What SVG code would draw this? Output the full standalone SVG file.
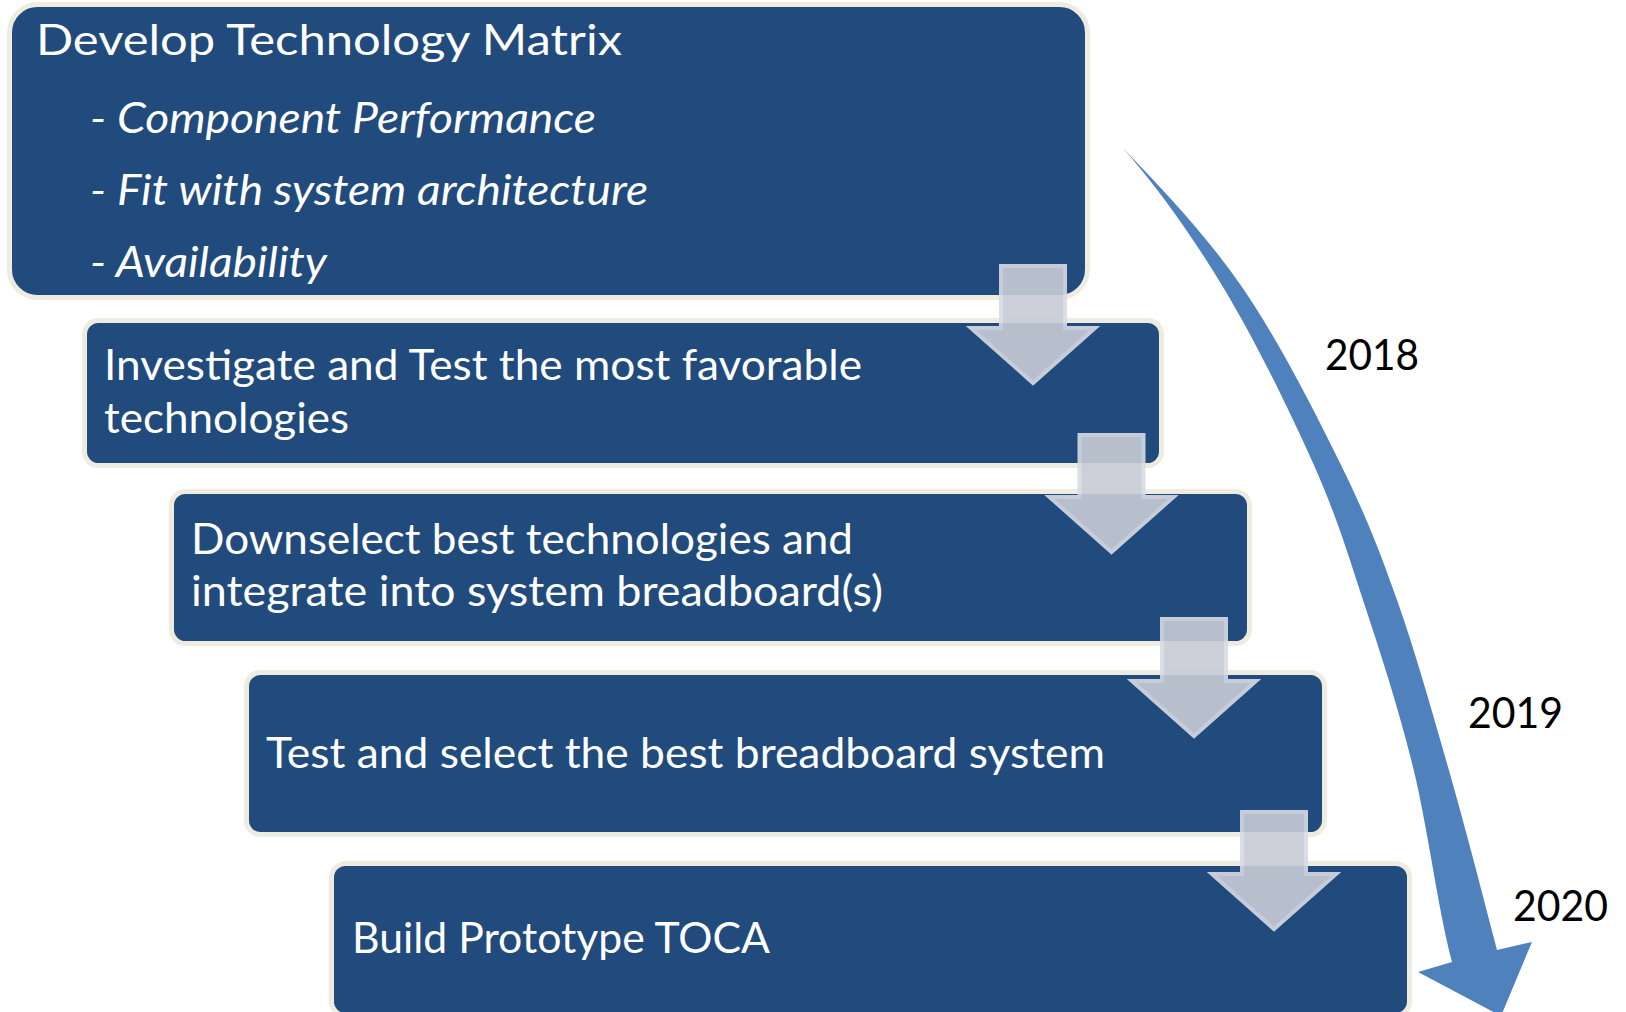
<svg xmlns="http://www.w3.org/2000/svg" width="1626" height="1012" viewBox="0 0 1626 1012">
  <style>
    .box { fill: #214a7d; stroke: #eeece1; stroke-width: 5; }
    .lbl { font-family: Lato, "Open Sans", "Liberation Sans", sans-serif; font-size: 43px; fill: #ffffff; }
    .sub { font-style: italic; }
    .year { font-family: Lato, "Open Sans", "Liberation Sans", sans-serif; font-size: 42px; fill: #000000; }
    .step { fill: #c8ccd6; stroke: #d8dbe3; stroke-width: 4; stroke-linejoin: miter; opacity: 0.9; }
    .timeline { fill: #4f81bd; }
  </style>
  <defs>
    <!-- down block arrow, origin at the top centre of the shaft -->
    <polygon id="downArrow" points="-32,2 32,2 32,64 62,64 0,119 -62,64 -32,64"/>
  </defs>

  <rect x="0" y="0" width="1626" height="1012" fill="#ffffff"/>

  <g id="step-1">
    <rect class="box" x="9.5" y="4.5" width="1078" height="293" rx="28" ry="28"/>
    <text class="lbl" x="36" y="55" textLength="586" lengthAdjust="spacingAndGlyphs">Develop Technology Matrix</text>
    <text class="lbl sub" x="90" y="133" textLength="506" lengthAdjust="spacingAndGlyphs">- Component Performance</text>
    <text class="lbl sub" x="90" y="205" textLength="558" lengthAdjust="spacingAndGlyphs">- Fit with system architecture</text>
    <text class="lbl sub" x="90" y="277" textLength="237" lengthAdjust="spacingAndGlyphs">- Availability</text>
  </g>

  <g id="step-2">
    <rect class="box" x="84.5" y="320.5" width="1077" height="145" rx="14" ry="14"/>
    <text class="lbl" x="104" y="380" textLength="758" lengthAdjust="spacingAndGlyphs">Investigate and Test the most favorable</text>
    <text class="lbl" x="104" y="433" textLength="245" lengthAdjust="spacingAndGlyphs">technologies</text>
  </g>

  <g id="step-3">
    <rect class="box" x="171.5" y="491.5" width="1078" height="152" rx="14" ry="14"/>
    <text class="lbl" x="191" y="554" textLength="662" lengthAdjust="spacingAndGlyphs">Downselect best technologies and</text>
    <text class="lbl" x="191" y="606" textLength="692" lengthAdjust="spacingAndGlyphs">integrate into system breadboard(s)</text>
  </g>

  <g id="step-4">
    <rect class="box" x="246.5" y="672.5" width="1078" height="162" rx="14" ry="14"/>
    <text class="lbl" x="266" y="768" textLength="839" lengthAdjust="spacingAndGlyphs">Test and select the best breadboard system</text>
  </g>

  <g id="step-5">
    <rect class="box" x="331.5" y="863.5" width="1078" height="152" rx="14" ry="14"/>
    <text class="lbl" x="352" y="953" textLength="418" lengthAdjust="spacingAndGlyphs">Build Prototype TOCA</text>
  </g>

  <g id="connectors">
    <use href="#downArrow" class="step" x="1033" y="264"/>
    <use href="#downArrow" class="step" x="1111.5" y="433"/>
    <use href="#downArrow" class="step" x="1194" y="617"/>
    <use href="#downArrow" class="step" x="1274" y="810"/>
  </g>

  <g id="timeline">
    <path class="timeline" d="M 1123 148
      C 1163 190 1205.8 234.5 1242 287
      C 1278.2 339.5 1314.2 410.8 1340 463
      C 1365.8 515.2 1379 549.3 1397 600
      C 1415 650.7 1431.3 708.7 1448 767
      C 1464.7 825.3 1482 892 1497 950
      L 1532 942 L 1501 1016 L 1418 972 L 1452 962
      C 1437 904 1427.8 827.3 1413 767
      C 1398.2 706.7 1379.7 650.7 1363 600
      C 1346.3 549.3 1336.3 515.2 1313 463
      C 1289.7 410.8 1254.7 339.5 1223 287
      C 1191.3 234.5 1158 188 1123 148 Z"/>
    <text class="year" x="1325" y="370" textLength="94" lengthAdjust="spacingAndGlyphs">2018</text>
    <text class="year" x="1468" y="728" textLength="95" lengthAdjust="spacingAndGlyphs">2019</text>
    <text class="year" x="1513" y="921" textLength="95" lengthAdjust="spacingAndGlyphs">2020</text>
  </g>
</svg>
